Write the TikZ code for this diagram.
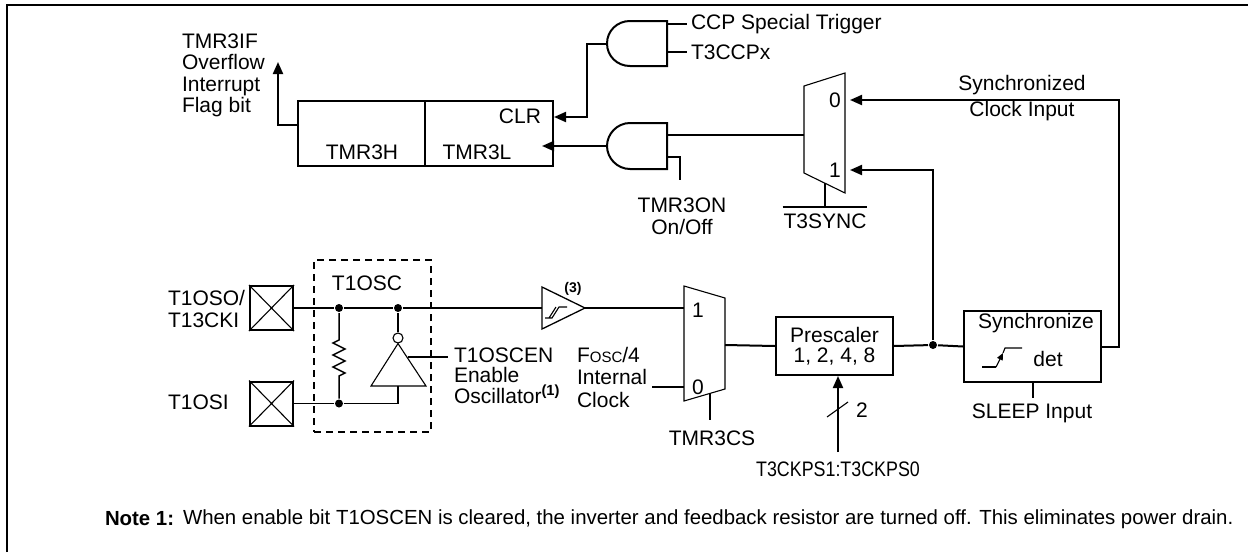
\documentclass[tikz,border=0pt]{standalone}
\usepackage{fontspec}
\setmainfont{Liberation Sans}
\usetikzlibrary{arrows.meta,positioning,calc}
\newcommand{\fosc}{F{\fontsize{15}{15}\selectfont OSC}/4}
\tikzset{
  blk/.style={draw, line width=2pt, inner sep=0pt, anchor=north west},
  pad/.style={draw, line width=2pt, inner sep=0pt, minimum width=43pt, minimum height=44pt},
  txt/.style={inner sep=0pt, font=\fontsize{21}{21.5}\selectfont},
  arr/.style={-{Triangle[length=12pt,width=10pt]}},
  lthin/.style={line width=1.1pt},
  jdot/.style={circle, fill, inner sep=0pt, minimum size=8pt},
}

\begin{document}
\begin{tikzpicture}[x=1pt,y=-1pt,line width=2pt]
      \useasboundingbox (0,0) rectangle (1248,552);
      % outer frame
      \draw[line width=2.5pt] (7,552) -- (7,5) -- (1248,5);

      % timer register
      \node[blk, minimum width=127pt, minimum height=65pt] (tmrh) at (297,100) {};
      \node[blk, minimum width=128pt, minimum height=65pt] (tmrl) at (424,100) {};
      \node[txt] (lblh) at (362,152) {TMR3H};
      \node[txt] (lbll) at (477,152) {TMR3L};
      \node[txt, anchor=east] (lblclr) at (542,116) {CLR};
      \coordinate (ovf) at (278,62);
      \draw[arr] ([yshift=8.5pt]tmrh.west) -| (ovf);
      \node[txt, align=left, anchor=west] (ovftxt) at (181,75.5) {TMR3IF\\Overflow\\Interrupt\\Flag bit};

      % CLR gate
      \draw (667,21) -- (630,21) .. controls (617,21) and (607,31) .. (607,43.5) coordinate (clrout)
        .. controls (607,56) and (617,66) .. (630,66) -- (667,66) -- cycle;
      \coordinate (ccpin) at (667,24);
      \coordinate (t3in) at (667,52);
      \draw (ccpin) -- ++(20,0) node[txt, anchor=west, inner xsep=3pt] (ccptxt) {CCP Special Trigger};
      \draw (t3in) -- ++(20,0) node[txt, anchor=west, inner xsep=3pt] (t3ccp) {T3CCPx};
      \draw[arr] (clrout) -- ++(-20,0) |- ([yshift=16.5pt]tmrl.east);

      % TMR3ON gate
      \draw (667,123) -- (630,123) .. controls (617,123) and (607,134) .. (607,146) coordinate (onout)
        .. controls (607,158) and (617,169) .. (630,169) -- (667,169) -- cycle;
      \coordinate (onin1) at (667,135);
      \coordinate (onin2) at (667,157);
      \coordinate (onsel) at (680,180);
      \draw[arr] (onout) -- ($(tmrl.east |- onout)+(-12,0)$);
      \draw (onin2) -| (onsel);
      \node[txt, align=center, anchor=north] (ontxt) at (682,197) {TMR3ON\\On/Off};

      % T3SYNC mux
      \draw[lthin] (804,86) -- (845,73) -- (845,193) -- (804,173) -- cycle;
      \coordinate (msout) at (804,135);
      \coordinate (ms0) at (850,100);
      \coordinate (ms1) at (850,170);
      \coordinate (mssel) at (825,183.2);
      \node[txt] (ms0lbl) at (835,100) {0};
      \node[txt] (ms1lbl) at (835,170) {1};
      \draw (msout) -- (onin1);
      \node[txt, inner ysep=6pt, anchor=north] (tsync) at (825,207) {T3SYNC};
      \draw (mssel) -- (tsync.north);
      \draw (tsync.north west) -- (tsync.north east);
      \node[txt, align=center] (sclk) at (1022,98) {Synchronized\\[4.5pt]Clock Input};

      % oscillator
      \node[pad] (padso) at (271.5,308) {};
      \node[pad] (padsi) at (271.5,403.5) {};
      \foreach \p in {padso,padsi}
        \draw[lthin] (\p.north west) -- (\p.south east) (\p.north east) -- (\p.south west);
      \node[txt, align=left, anchor=west] (sotxt) at (167,309) {T1OSO/\\T13CKI};
      \node[txt, anchor=west] (sitxt) at (167,402) {T1OSI};
      \node[draw, dash pattern=on 7pt off 5pt, minimum width=117pt, minimum height=172pt,
        inner sep=0pt, anchor=north west] (oscbox) at (313,259) {};
      \node[txt] (osclbl) at (367,283) {T1OSC};
      \node[jdot] (jr) at (339,308) {};
      \node[jdot] (ji) at (398,308) {};
      \node[jdot] (jb) at (339,403.5) {};
      \coordinate (bufin) at (542,308);
      \coordinate (bufout) at (585,308);
      \draw (padso.east) -- (jr) -- (ji) -- (bufin);
      \draw[line width=1.5pt] (jr) -- (339,340) -- (333,343) -- (345,349) -- (333,355) -- (345,361)
        -- (333,367) -- (345,373) -- (339,376) -- (jb);
      \node[circle, draw, lthin, minimum size=10pt, inner sep=0pt] (bub) at (398,338) {};
      \draw[lthin] (bub.south) -- (426,386) -- (371,386) -- cycle;
      \draw (ji) -- (bub);
      \draw[lthin] (398,386) -- (398,403.5) -- (jb) -- (padsi.east);
      \coordinate (en) at (448,357);
      \draw (408,357) -- (en);
      \node[txt, align=left, anchor=north west, font=\fontsize{21}{20.5}\selectfont] (entxt) at (453,346.5)
        {T1OSCEN\\Enable\\Oscillator\textsuperscript{\textbf{(1)}}};

      % schmitt buffer
      \draw[line width=1.3pt] (bufin |- 0,287) -- (bufout) -- (bufin |- 0,329) -- cycle;
      \draw[lthin] (545,318) -- (552,318) -- (559,307) -- (567,307) (549,318) -- (556,307);
      \node[inner sep=0pt, font=\fontsize{14}{14}\selectfont\bfseries] (n3) at (573,289) {(3)};

      % TMR3CS mux
      \draw[lthin] (684,286) -- (725,298) -- (725,389) -- (684,401) -- cycle;
      \coordinate (mc1) at (684,308);
      \coordinate (mc0) at (684,387);
      \coordinate (mcout) at (725,345);
      \coordinate (mcsel) at (710,393.4);
      \node[txt] (mc1lbl) at (698,310) {1};
      \node[txt] (mc0lbl) at (698,387) {0};
      \draw (bufout) -- (mc1);
      \node[txt, align=left, anchor=west, font=\fontsize{21}{22.5}\selectfont] (fosc) at (576,377) {\fosc\\Internal\\Clock};
      \coordinate (foscend) at (652,387);
      \draw (foscend) -- (mc0);
      \node[txt, inner ysep=10pt, anchor=north] (tcs) at (712,420) {TMR3CS};
      \draw (mcsel) -- (mcsel |- tcs.north);

      % prescaler and synchronizer
      \node[blk, txt, align=center, minimum width=117pt, minimum height=58pt] (presc) at (775,316) {Prescaler\\[-1pt]1, 2, 4, 8};
      \draw (mcout) -- (presc.west);
      \coordinate (psbot) at (838,452);
      \draw[arr] (psbot) -- (psbot |- presc.south);
      \draw[lthin] (827,417) -- (848,402);
      \node[txt] (bits) at (862,410) {2};
      \node[txt, inner ysep=9pt, anchor=north] (tckps) at (psbot) {\scalebox{0.85}[1]{T3CKPS1:T3CKPS0}};
      \node[blk, minimum width=137pt, minimum height=71pt] (sync) at (963,310) {};
      \node[jdot] (jp) at (933,345) {};
      \draw (presc.east) -- (jp) -- (sync.west);
      \draw[arr] (jp) |- (ms1);
      \draw[arr] (sync.east) -- ++(17,0) |- (ms0);
      \node[txt] (synctxt) at (1036,323) {Synchronize};
      \node[txt] (dettxt) at (1048,359) {det};
      \draw[lthin] (982,367) -- (996,367);
      \draw[lthin, -{Triangle[length=7pt,width=6pt]}] (996,367) -- (1003,353);
      \draw[lthin] (1003,353) -- (1005,348) -- (1022,348);
      \node[txt, inner ysep=5pt, anchor=north] (sleep) at (1032,398) {SLEEP Input};
      \draw (sync.south) -- (sync.south |- sleep.north);

      % note
      \node[inner sep=0pt, anchor=west, font=\fontsize{20.4}{21}\selectfont\bfseries] (notehd) at (104,519) {Note 1:};
      \node[inner sep=0pt, anchor=west, font=\fontsize{20.4}{21}\selectfont] (notetxt) at (182,519)
        {When enable bit T1OSCEN is cleared, the inverter and feedback resistor are turned off. This eliminates power drain.};
\end{tikzpicture}
\end{document}
